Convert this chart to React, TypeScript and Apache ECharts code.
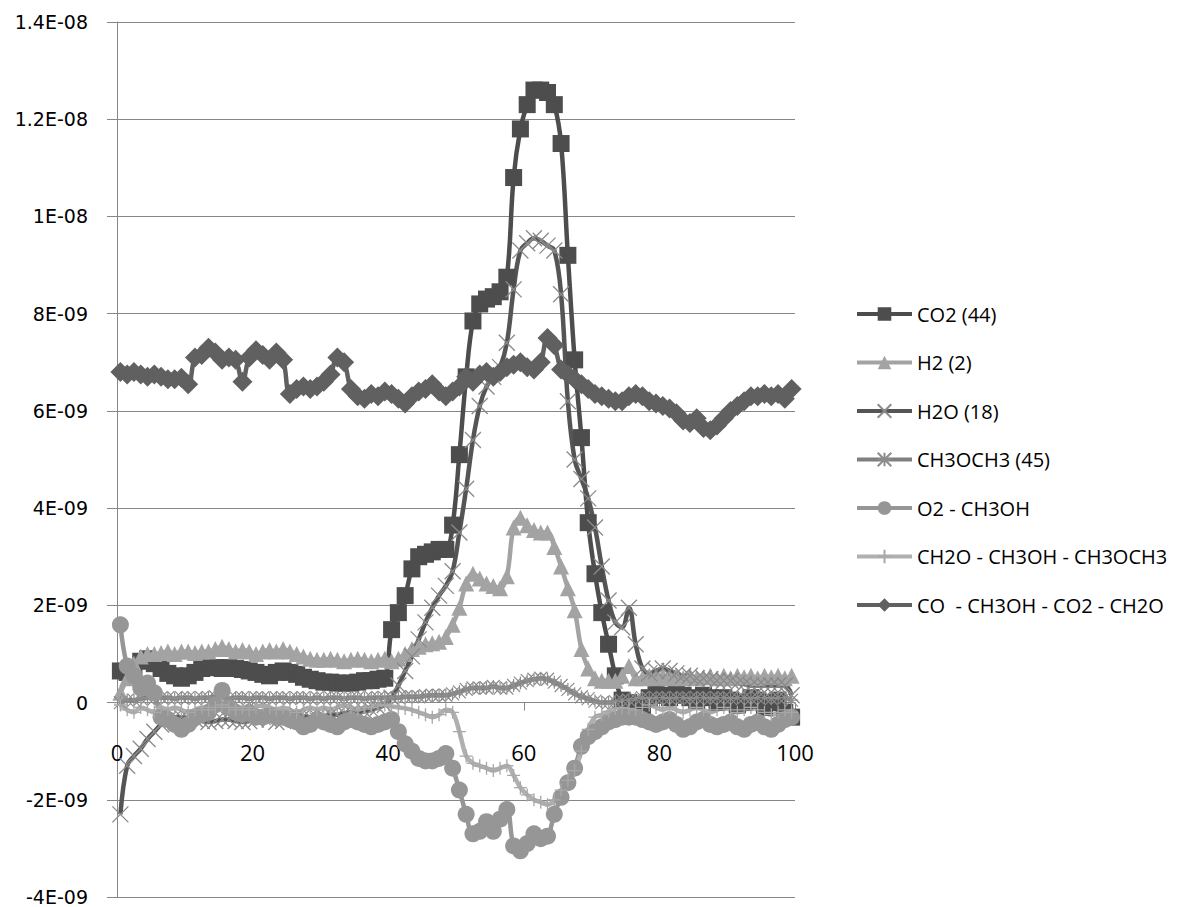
import React, { useEffect, useRef } from "react";
import * as echarts from "echarts";

// sample times (x)
const TIME = [
  0.5, 1.5, 2.5, 3.5, 4.5, 5.5, 6.5, 7.5, 8.5, 9.5,
  10.5, 11.5, 12.5, 13.5, 14.5, 15.5, 16.5, 17.5, 18.5, 19.5,
  20.5, 21.5, 22.5, 23.5, 24.5, 25.5, 26.5, 27.5, 28.5, 29.5,
  30.5, 31.5, 32.5, 33.5, 34.5, 35.5, 36.5, 37.5, 38.5, 39.5,
  40.5, 41.5, 42.5, 43.5, 44.5, 45.5, 46.5, 47.5, 48.5, 49.5,
  50.5, 51.5, 52.5, 53.5, 54.5, 55.5, 56.5, 57.5, 58.5, 59.5,
  60.5, 61.5, 62.5, 63.5, 64.5, 65.5, 66.5, 67.5, 68.5, 69.5,
  70.5, 71.5, 72.5, 73.5, 74.5, 75.5, 76.5, 77.5, 78.5, 79.5,
  80.5, 81.5, 82.5, 83.5, 84.5, 85.5, 86.5, 87.5, 88.5, 89.5,
  90.5, 91.5, 92.5, 93.5, 94.5, 95.5, 96.5, 97.5, 98.5, 99.5,
];

// values in units of 1E-09
const CO2 = [
  0.65, 0.62, 0.7, 0.85, 0.9, 0.8, 0.7, 0.6, 0.55, 0.5,
  0.55, 0.62, 0.7, 0.72, 0.72, 0.7, 0.72, 0.7, 0.68, 0.65,
  0.62, 0.58, 0.55, 0.62, 0.65, 0.62, 0.58, 0.52, 0.48, 0.45,
  0.42, 0.42, 0.4, 0.4, 0.4, 0.42, 0.45, 0.45, 0.48, 0.5,
  1.5, 1.85, 2.2, 2.75, 3.0, 3.05, 3.1, 3.15, 3.15, 3.65,
  5.1, 6.7, 7.85, 8.2, 8.3, 8.35, 8.45, 8.75, 10.8, 11.8,
  12.3, 12.6, 12.6, 12.55, 12.3, 11.5, 9.2, 7.05, 5.45, 3.7,
  2.65, 1.85, 1.2, 0.55, 0.05, 0.0, -0.1, -0.15, 0.1, 0.2,
  0.15, 0.1, 0.2, 0.15, 0.1, 0.05, 0.15, 0.1, 0.0, 0.1,
  0.05, -0.05, 0.0, 0.1, 0.05, -0.1, 0.0, 0.05, -0.2, -0.3,
];

const H2 = [
  0.2, 0.5, 0.8, 0.95, 1.0, 1.0, 1.02, 1.05, 1.0, 1.05,
  1.05, 1.02, 1.05, 1.05, 1.1, 1.15, 1.1, 1.05, 1.08, 1.05,
  1.0, 1.05, 1.08, 1.05, 1.1, 1.05, 1.0, 0.95, 0.9, 0.88,
  0.88, 0.9, 0.88, 0.85, 0.88, 0.9, 0.88, 0.85, 0.88, 0.9,
  0.85, 0.9, 1.0, 1.1, 1.15, 1.2, 1.22, 1.25, 1.35, 1.6,
  1.95, 2.45, 2.65, 2.55, 2.45, 2.4, 2.35, 2.6, 3.6, 3.8,
  3.65, 3.55, 3.5, 3.5, 3.2, 2.8, 2.35, 1.9, 1.1, 0.7,
  0.5, 0.45, 0.45, 0.45, 0.55, 0.75, 0.5, 0.5, 0.55, 0.5,
  0.55, 0.5, 0.55, 0.5, 0.55, 0.5, 0.52, 0.55, 0.5, 0.55,
  0.5, 0.55, 0.52, 0.55, 0.5, 0.55, 0.52, 0.55, 0.5, 0.55,
];

const H2O = [
  -2.3, -1.3, -1.1, -0.95, -0.75, -0.6, -0.45, -0.35, -0.3, -0.3,
  -0.32, -0.35, -0.38, -0.4, -0.38, -0.35, -0.35, -0.38, -0.4, -0.38,
  -0.35, -0.3, -0.35, -0.4, -0.38, -0.3, -0.25, -0.28, -0.3, -0.3,
  -0.28, -0.25, -0.25, -0.22, -0.2, -0.2, -0.18, -0.15, -0.1, -0.05,
  0.1, 0.35, 0.65, 0.95, 1.3, 1.65, 1.95, 2.2, 2.4, 2.7,
  3.5, 4.4, 5.4, 6.1, 6.5, 6.7, 6.9, 7.4, 8.5, 9.3,
  9.45, 9.55, 9.5, 9.4, 9.3, 8.4, 6.2, 5.0, 4.6, 4.2,
  3.6, 2.8, 2.1, 1.65, 1.55, 1.95, 1.2, 0.7, 0.6, 0.65,
  0.7, 0.65, 0.6, 0.55, 0.55, 0.5, 0.5, 0.48, 0.45, 0.45,
  0.45, 0.4, 0.38, 0.35, 0.35, 0.35, 0.35, 0.35, 0.35, 0.15,
];

const CH3OCH3 = [
  0.0, 0.05, 0.05, 0.08, 0.1, 0.08, 0.1, 0.1, 0.08, 0.1,
  0.1, 0.08, 0.1, 0.1, 0.12, 0.1, 0.08, 0.1, 0.1, 0.08,
  0.1, 0.1, 0.08, 0.1, 0.1, 0.08, 0.1, 0.1, 0.08, 0.1,
  0.08, 0.1, 0.1, 0.08, 0.1, 0.1, 0.08, 0.1, 0.1, 0.1,
  0.1, 0.1, 0.12, 0.12, 0.12, 0.14, 0.15, 0.15, 0.15, 0.18,
  0.22, 0.27, 0.3, 0.3, 0.3, 0.33, 0.3, 0.3, 0.35, 0.4,
  0.45, 0.48, 0.5, 0.48, 0.42, 0.35, 0.27, 0.18, 0.12, 0.08,
  0.03, 0.0, 0.0, 0.02, 0.05, 0.05, 0.08, 0.1, 0.08, 0.1,
  0.1, 0.08, 0.1, 0.1, 0.08, 0.1, 0.1, 0.08, 0.1, 0.1,
  0.08, 0.1, 0.1, 0.08, 0.1, 0.1, 0.08, 0.1, 0.1, 0.05,
];

const O2_CH3OH = [
  1.6, 0.75, 0.55, 0.3, 0.4, 0.2, -0.3, -0.35, -0.45, -0.55,
  -0.45, -0.3, -0.25, -0.2, -0.05, 0.25, -0.1, -0.2, -0.25, -0.2,
  -0.3, -0.3, -0.25, -0.3, -0.3, -0.35, -0.4, -0.5, -0.45, -0.35,
  -0.4, -0.45, -0.5, -0.4, -0.35, -0.4, -0.45, -0.5, -0.45, -0.4,
  -0.35, -0.6, -0.85, -1.0, -1.15, -1.2, -1.2, -1.15, -1.05, -1.35,
  -1.8, -2.3, -2.7, -2.65, -2.45, -2.65, -2.4, -2.2, -2.95, -3.05,
  -2.9, -2.7, -2.8, -2.75, -2.3, -1.95, -1.65, -1.35, -0.9, -0.7,
  -0.6, -0.5, -0.4, -0.35, -0.3, -0.3, -0.3, -0.35, -0.4, -0.45,
  -0.4, -0.35, -0.45, -0.55, -0.5, -0.4, -0.35, -0.45, -0.5, -0.45,
  -0.4, -0.5, -0.55, -0.45, -0.4, -0.5, -0.55, -0.45, -0.35, -0.3,
];

const CH2O_MIX = [
  -0.05, -0.15, -0.2, -0.1, -0.15, -0.2, -0.1, -0.15, -0.1, -0.15,
  -0.2, -0.15, -0.1, -0.15, -0.1, -0.05, -0.1, -0.15, -0.1, -0.15,
  -0.1, -0.05, -0.1, -0.15, -0.1, -0.15, -0.2, -0.15, -0.1, -0.15,
  -0.1, -0.15, -0.1, -0.05, -0.1, -0.15, -0.1, -0.1, -0.05, -0.05,
  -0.08, -0.1, -0.12, -0.15, -0.2, -0.25, -0.3, -0.25, -0.15, -0.2,
  -0.6, -1.1, -1.25, -1.3, -1.35, -1.4, -1.35, -1.3, -1.5, -1.75,
  -1.9, -2.0, -2.05, -2.1, -2.0, -1.8, -1.6, -1.4, -1.0, -0.55,
  -0.3, -0.25, -0.18, -0.12, -0.1, -0.12, -0.15, -0.1, -0.05, -0.1,
  -0.15, -0.1, -0.15, -0.2, -0.15, -0.1, -0.15, -0.2, -0.15, -0.1,
  -0.15, -0.2, -0.15, -0.1, -0.15, -0.2, -0.25, -0.2, -0.15, -0.2,
];

const CO_MIX = [
  6.8, 6.75, 6.8, 6.75, 6.7, 6.75, 6.7, 6.65, 6.65, 6.68,
  6.55, 7.1, 7.15, 7.3, 7.2, 7.05, 7.1, 7.05, 6.6, 7.1,
  7.25, 7.15, 7.05, 7.2, 7.05, 6.35, 6.45, 6.5, 6.45, 6.5,
  6.6, 6.75, 7.1, 7.0, 6.45, 6.3, 6.25, 6.35, 6.3, 6.4,
  6.35, 6.25, 6.15, 6.3, 6.4, 6.45, 6.55, 6.4, 6.3, 6.4,
  6.5, 6.7, 6.6, 6.75, 6.8, 6.7, 6.8, 6.9, 6.95, 7.0,
  6.9, 6.85, 7.0, 7.5, 7.35, 6.85, 6.75, 6.65, 6.55, 6.45,
  6.35, 6.3, 6.25, 6.2, 6.2, 6.3, 6.35, 6.3, 6.2, 6.15,
  6.1, 6.05, 5.95, 5.8, 5.75, 5.85, 5.65, 5.6, 5.7, 5.85,
  6.0, 6.1, 6.2, 6.3, 6.3, 6.35, 6.3, 6.35, 6.25, 6.45,
];

const SERIES_NAMES = [
  "CO2 (44)",
  "H2 (2)",
  "H2O (18)",
  "CH3OCH3 (45)",
  "O2 - CH3OH",
  "CH2O - CH3OH - CH3OCH3",
  "CO  - CH3OH - CO2 - CH2O",
];

const Y_MIN = -4;
const Y_MAX = 14;
const Y_TICKS = [-4, -2, 0, 2, 4, 6, 8, 10, 12, 14];
const Y_TICK_LABELS = ["-4E-09", "-2E-09", "0", "2E-09", "4E-09", "6E-09", "8E-09", "1E-08", "1.2E-08", "1.4E-08"];

const X_SYM = "path://M0,0L10,10M10,0L0,10";
const STAR_SYM = "path://M0,0L10,10M10,0L0,10M5,0L5,10M0,5L10,5";
const PLUS_SYM = "path://M5,0L5,10M0,5L10,5";

const GRID_TOP = 22;
const GRID_BOTTOM = 10;
const CHART_H = 907;

function pairs(vals: number[]) {
  return vals.map((v, i) => [TIME[i], v]);
}

export default function App() {
  const ref = useRef<HTMLDivElement>(null);
  useEffect(() => {
    if (!ref.current) return;
    const chart = echarts.init(ref.current, undefined, { renderer: "svg" });
    const plotH = CHART_H - GRID_TOP - GRID_BOTTOM;
    // move the x axis up to the y = 0 line (Excel style crossing)
    const zeroOffset = -(plotH * (0 - Y_MIN)) / (Y_MAX - Y_MIN);
    const mk = (
      name: string,
      vals: number[],
      lineColor: string,
      width: number,
      symbol: string,
      size: number,
      item: any
    ) => ({
      name,
      type: "line",
      data: pairs(vals),
      smooth: 0.4,
      symbol,
      symbolSize: size,
      showSymbol: true,
      lineStyle: { color: lineColor, width },
      itemStyle: item,
      emphasis: { disabled: true },
    });
    chart.setOption({
      animation: false,
      backgroundColor: "#ffffff",
      grid: {
        left: 117,
        right: 407,
        top: GRID_TOP,
        bottom: GRID_BOTTOM,
        containLabel: false,
        outerBoundsMode: "none",
      },
      legend: {
        orient: "vertical",
        left: 850,
        top: 299,
        itemWidth: 55,
        itemHeight: 17,
        itemGap: 28.5,
        lineStyle: { width: 4 },
        textStyle: { fontFamily: "Open Sans", fontSize: 20, color: "#000" },
        data: SERIES_NAMES,
      },
      xAxis: {
        type: "value",
        min: 0,
        max: 100,
        interval: 20,
        position: "bottom",
        offset: zeroOffset,
        axisLine: { onZero: false, lineStyle: { color: "#868686", width: 1 } },
        axisTick: { show: true, length: 8, lineStyle: { color: "#868686" } },
        axisLabel: { fontFamily: "Open Sans", fontSize: 22, color: "#000", margin: 38 },
        splitLine: { show: false },
      },
      yAxis: {
        type: "value",
        min: Y_MIN,
        max: Y_MAX,
        interval: 2,
        axisLine: { show: true, lineStyle: { color: "#868686", width: 1 } },
        axisTick: { show: true, length: 10, lineStyle: { color: "#868686" } },
        axisLabel: {
          fontFamily: "DejaVu Sans",
          fontSize: 19,
          color: "#000",
          margin: 29,
          formatter: (v: number) => {
            const k = Y_TICKS.findIndex((t) => Math.abs(t - v) < 1e-6);
            return k >= 0 ? Y_TICK_LABELS[k] : "";
          },
        },
        splitLine: { show: true, lineStyle: { color: "#868686", width: 1 } },
      },
      series: [
        mk(SERIES_NAMES[0], CO2, "#4d4d4d", 4.5, "rect", 17, { color: "#4d4d4d" }),
        mk(SERIES_NAMES[1], H2, "#a3a3a3", 4.5, "triangle", 16, { color: "#a3a3a3" }),
        mk(SERIES_NAMES[2], H2O, "#555555", 4.5, X_SYM, 16, {
          color: "transparent",
          borderColor: "#8a8a8a",
          borderWidth: 1.3,
        }),
        mk(SERIES_NAMES[3], CH3OCH3, "#7f7f7f", 4.5, STAR_SYM, 13, {
          color: "transparent",
          borderColor: "#8c8c8c",
          borderWidth: 1.2,
        }),
        mk(SERIES_NAMES[4], O2_CH3OH, "#969696", 4.5, "circle", 17, { color: "#969696" }),
        mk(SERIES_NAMES[5], CH2O_MIX, "#b0b0b0", 4.5, PLUS_SYM, 13, {
          color: "transparent",
          borderColor: "#a8a8a8",
          borderWidth: 1.3,
        }),
        mk(SERIES_NAMES[6], CO_MIX, "#606060", 4.5, "diamond", 20, { color: "#606060" }),
      ],
    });
    return () => chart.dispose();
  }, []);
  return (
    <div
      ref={ref}
      style={{ position: "fixed", left: 0, top: 0, width: 1202, height: 907, background: "#fff" }}
    />
  );
}
